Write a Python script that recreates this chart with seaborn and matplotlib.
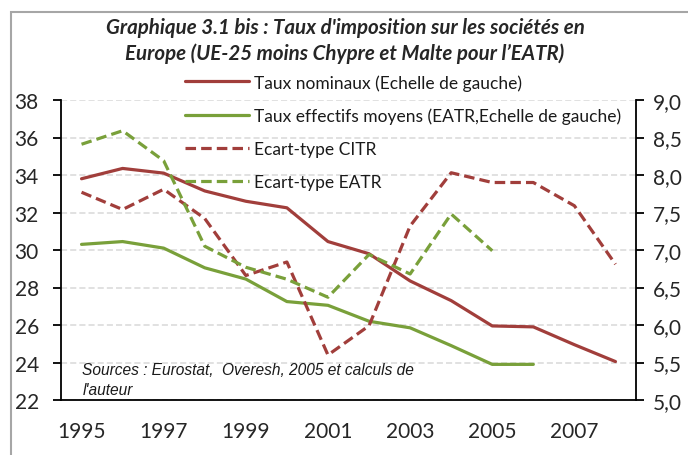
import matplotlib
matplotlib.use("Agg")
import matplotlib.pyplot as plt
import seaborn as sns
from matplotlib.patches import Rectangle

# %% data
years = list(range(1995, 2009))
taux_nominaux = [33.8, 34.35, 34.1, 33.15, 32.6, 32.25, 30.45, 29.8, 28.35, 27.3, 25.95, 25.9, 24.95, 24.05]
taux_eatr = [30.3, 30.45, 30.1, 29.05, 28.45, 27.25, 27.05, 26.2, 25.85, 24.9, 23.9, 23.9]
ecart_citr = [7.77, 7.54, 7.81, 7.42, 6.66, 6.84, 5.6, 5.99, 7.32, 8.03, 7.9, 7.9, 7.59, 6.81]
ecart_eatr = [8.41, 8.59, 8.19, 7.05, 6.77, 6.61, 6.37, 6.94, 6.68, 7.48, 6.99]
year_labels = [str(y) for y in years[::2]]
left_ticks = [22, 24, 26, 28, 30, 32, 34, 36, 38]
right_ticks = [5.0, 5.5, 6.0, 6.5, 7.0, 7.5, 8.0, 8.5, 9.0]

RED = "#A13E3B"
GREEN = "#79A03A"
FONT = ["Lato", "DejaVu Sans"]

sns.set_style("white")
plt.rcParams["font.family"] = FONT

fig = plt.figure(figsize=(6.88, 4.56), dpi=100)
ax = fig.add_axes([61 / 688, 1 - 401 / 456, 575 / 688, 300 / 456])
ax2 = ax.twinx()

idx = list(range(len(years)))

# %% lines
sns.lineplot(x=idx, y=taux_nominaux, ax=ax, color=RED, linewidth=2.3,
             label="Taux nominaux (Echelle de gauche)", legend=False)
sns.lineplot(x=idx[:len(taux_eatr)], y=taux_eatr, ax=ax, color=GREEN, linewidth=2.3,
             label="Taux effectifs moyens (EATR,Echelle de gauche)", legend=False)
sns.lineplot(x=idx, y=ecart_citr, ax=ax2, color=RED, linewidth=2.3,
             label="Ecart-type CITR", legend=False)
sns.lineplot(x=idx[:len(ecart_eatr)], y=ecart_eatr, ax=ax2, color=GREEN, linewidth=2.3,
             label="Ecart-type EATR", legend=False)
for ln in ax2.lines:
    ln.set_dashes((3.3, 1.6))

# %% axes
ax.set_xlim(-0.5, len(years) - 0.5)
ax.set_ylim(22, 38)
ax2.set_ylim(5, 9)
ax.set_yticks(left_ticks)
ax.set_yticklabels([str(t) for t in left_ticks])
ax2.set_yticks(right_ticks)
ax2.set_yticklabels([f"{t:.1f}".replace(".", ",") for t in right_ticks])

ax.set_xticks([i - 0.5 for i in range(len(years) + 1)])
ax.set_xticklabels([])
ax.set_xticks(idx[::2], minor=True)
ax.set_xticklabels(year_labels, minor=True)
ax.tick_params(axis="x", which="major", direction="out", length=8, width=1.3, color="black")
ax.tick_params(axis="x", which="minor", length=0, pad=15, labelsize=15)
ax.tick_params(axis="y", direction="out", length=6, width=1.3, color="black",
               pad=10, labelsize=15, left=True)
ax2.tick_params(axis="y", direction="out", length=6, width=1.3, color="black",
                pad=6, labelsize=15, right=True)

ax.grid(axis="y", color="#D9D9D9", linestyle=(0, (4, 2)), linewidth=1.1)
ax.grid(axis="x", visible=False)
ax2.grid(False)
ax.set_axisbelow(True)

for a in (ax, ax2):
    a.spines["top"].set_visible(False)
    for s in ("left", "right", "bottom"):
        a.spines[s].set_color("black")
        a.spines[s].set_linewidth(1.3)
ax.spines["right"].set_visible(False)
ax2.spines["left"].set_visible(False)
ax2.spines["bottom"].set_visible(False)

# %% legend, title, source
h1, l1 = ax.get_legend_handles_labels()
h2, l2 = ax2.get_legend_handles_labels()
leg = fig.legend(h1 + h2, l1 + l2, loc="upper left",
                 bbox_to_anchor=(185 / 688, 1 - 75 / 456), frameon=False,
                 fontsize=12.5, handlelength=3.7, handletextpad=0.3,
                 labelspacing=0.97, borderpad=0, borderaxespad=0)
for t in leg.get_texts():
    t.set_color("#1a1a1a")

fig.text(345 / 688, 1 - 28 / 456, "Graphique 3.1 bis : Taux d'imposition sur les sociétés en",
         ha="center", va="center", fontsize=14.8, fontweight="bold", fontstyle="italic")
fig.text(345 / 688, 1 - 54 / 456, "Europe (UE-25 moins Chypre et Malte pour l’EATR)",
         ha="center", va="center", fontsize=14.8, fontweight="bold", fontstyle="italic")

ax.text(0.02, 23.1, "Sources : Eurostat,  Overesh, 2005 et calculs de\nl'auteur",
        ha="left", va="center", fontsize=11.2, fontstyle="italic", linespacing=1.45,
        family=["Liberation Sans", "DejaVu Sans"], color="#1a1a1a")

fig.patches.append(Rectangle((11 / 688, -0.05), 1.2, 1 - 13 / 456 + 0.05,
                             transform=fig.transFigure, fill=False,
                             edgecolor="#A6A6A6", linewidth=1.5))

fig.savefig("out.png", dpi=100)
